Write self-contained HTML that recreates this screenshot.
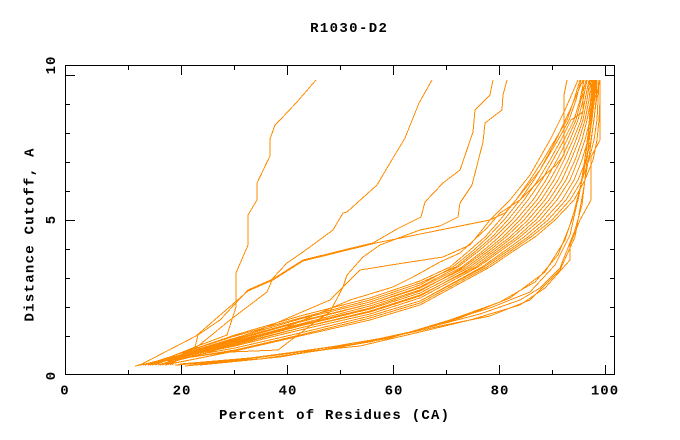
<!DOCTYPE html>
<html><head><meta charset="utf-8"><style>
html,body{margin:0;padding:0;background:#fff;}
svg{display:block;}
text{font-family:"Liberation Mono","DejaVu Sans Mono",monospace;font-weight:bold;font-size:14px;fill:#000;}
</style></head><body>
<svg width="680" height="440" viewBox="0 0 680 440" xmlns="http://www.w3.org/2000/svg">
<rect x="0" y="0" width="680" height="440" fill="#fff"/>
<text x="348.5" y="32" text-anchor="middle" textLength="76.8" lengthAdjust="spacing">R1030-D2</text>
<text x="334" y="419" text-anchor="middle" textLength="230" lengthAdjust="spacing">Percent of Residues (CA)</text>
<text transform="translate(33.5,235) rotate(-90)" text-anchor="middle" textLength="173" lengthAdjust="spacing">Distance Cutoff, A</text>
<g text-anchor="middle" style="letter-spacing:1px">
<text x="65" y="394.5">0</text>
<text x="182" y="394.5">20</text>
<text x="288" y="394.5">40</text>
<text x="394" y="394.5">60</text>
<text x="500" y="394.5">80</text>
<text x="605" y="394.5">100</text>
<text transform="translate(55,375.5) rotate(-90)">0</text>
<text transform="translate(55,219.5) rotate(-90)">5</text>
<text transform="translate(55,65) rotate(-90)">10</text>
</g>
<g fill="none" stroke="#ff8c00" stroke-width="1" shape-rendering="crispEdges">
<!-- main bundle -->
<polyline points="172,365 185,352 235,335 300,316 370,298 420,281 450,267 470,250 485,237 500,220 516,200 530,180 543,160 555,140 567,120 574,100 580,80"/>
<polyline points="155,365 185,353 235,338 300,319 370,302 420,285 453,267 474,250 488,237 504,220 520,200 534,180 546,160 558,140 569,120 576,100 581,80"/>
<polyline points="145,365 185,352 235,336 300,318 370,300 420,283 456,267 477,250 492,237 508,220 524,200 538,180 550,160 561,140 571,120 583,112 583,80"/>
<polyline points="170,365 185,354 235,339 300,321 370,304 420,287 458,267 480,250 495,237 512,220 528,200 542,180 553,160 564,140 574,120 580,100 584,80"/>
<polyline points="148,365 185,354 235,340 300,322 370,304 420,288 462,267 484,250 499,237 516,220 533,200 546,180 557,160 567,140 576,120 581,100 586,80"/>
<polyline points="162,365 185,355 235,342 300,325 370,308 420,291 464,267 487,250 503,237 520,220 537,200 550,180 561,160 570,140 578,120 583,100 587,80"/>
<polyline points="141,365 185,354 235,341 300,324 370,306 420,290 467,267 490,250 506,237 524,220 541,200 554,180 564,160 573,140 581,120 585,100 589,80"/>
<polyline points="160,365 185,355 235,343 300,326 370,309 420,293 470,267 493,250 510,237 528,220 545,200 558,180 568,160 576,140 583,120 587,100 590,80"/>
<polyline points="143,365 185,356 235,345 300,328 370,312 420,296 473,267 496,250 513,237 532,220 549,200 562,180 571,160 579,140 585,120 589,100 591,80"/>
<polyline points="152,365 185,355 235,344 300,328 370,311 420,295 476,267 499,250 517,237 536,220 553,200 566,180 575,160 582,140 587,120 591,100 593,80"/>
<polyline points="150,365 185,356 235,346 300,330 370,314 420,298 478,267 502,250 520,237 540,220 557,200 570,180 578,160 585,140 590,120 592,100 594,80"/>
<polyline points="158,365 185,357 235,348 300,333 370,316 420,301 482,267 506,250 524,237 544,220 562,200 574,180 582,160 588,140 592,120 594,100 596,80"/>
<polyline points="135,366 185,357 235,348 300,333 370,316 420,301 484,267 509,250 528,237 548,220 566,200 578,180 586,160 591,140 594,120 596,100 597,80"/>
<polyline points="165,365 185,358 235,350 300,335 370,318 420,303 487,267 512,250 531,237 552,220 570,200 582,180 589,160 594,140 597,120 598,100 599,80"/>
<polyline points="138,365 185,358 235,351 300,336 370,320 420,305 490,267 515,250 535,237 555,220 574,200 585,180 593,160 597,140 599,120 600,100 600,80"/>
<!-- lower bundle -->
<polyline points="175,365 240,360 300,352 360,346 420,332 470,320 520,305 545,288 570,260 570,245 580,220 591,200 591,157 600,140 600,80"/>
<polyline points="180,364 250,358 310,350 370,342 430,327 480,314 520,300 540,288 560,268 575,230 582,205 586,170 590,130 595,80"/>
<polyline points="185,366 260,359 330,349 390,338 440,323 490,308 530,292 555,265 570,235 580,190 588,140 592,80"/>
<polyline points="190,365 270,358 340,347 400,335 450,320 500,302 535,282 558,255 572,220 582,180 590,120 596,80"/>
<polyline points="200,365 280,357 350,345 410,332 460,318 510,298 545,272 565,240 578,200 588,150 597,80"/>
<polyline points="178,365 260,357 330,347 395,336 445,325 490,316 530,300 560,270 575,237 583,192 590,150 599,80"/>
<!-- upper fan -->
<polyline points="150,365 200,350 260,330 330,300 360,270 410,262 443,257 470,245 490,220 510,200 530,175 550,140 565,110 578,80"/>
<polyline points="160,365 210,352 280,330 350,300 393,287 413,277 440,262 460,253 487,228 500,213 520,200 545,175 556,165 564,155 564,95 567,80"/>
<!-- tall curves -->
<polyline points="180,358 195,347 227,335 236,307 236,273 248,245 248,215 257,200 257,183 270,156 270,139 275,125 280,120 297,102 316,80"/>
<polyline points="150,365 197,347 230,320 267,292 273,278 287,263 303,252 333,230 343,213 347,212 377,185 393,158 405,138 419,103 432,80"/>
<polyline points="150,365 195,347 198,335 220,320 248,290 273,279 303,260 360,246 373,243 397,229 421,217 425,202 443,183 460,170 473,132 475,110 490,95 493,80"/>
<polyline points="140,365 196,336 248,291 273,280 303,261 376,243 440,230 490,220 505,213 520,195 540,170 556,140 570,110 583,80"/>
<polyline points="165,365 230,352 278,350 315,322 330,312 343,287 347,275 363,257 380,245 420,230 440,226 458,217 460,203 472,185 483,142 485,123 502,110 503,95 507,80"/>
</g>
<g fill="none" stroke="#000" stroke-width="1" shape-rendering="crispEdges">
<rect x="65.5" y="65.5" width="549" height="309"/>
<path d="M181.5 375v-10M287.5 375v-10M393.5 375v-10M499.5 375v-10M605.5 375v-10
M128.5 375v-5M234.5 375v-5M340.5 375v-5M446.5 375v-5M552.5 375v-5
M181.5 65v10M287.5 65v10M393.5 65v10M499.5 65v10M605.5 65v10
M128.5 65v5M234.5 65v5M340.5 65v5M446.5 65v5M552.5 65v5
M65 75.5h10M65 220.5h10M615 75.5h-10M615 220.5h-10
M65 104.5h5M65 133.5h5M65 162.5h5M65 191.5h5M65 249.5h5M65 278.5h5M65 307.5h5M65 336.5h5
M615 104.5h-5M615 133.5h-5M615 162.5h-5M615 191.5h-5M615 249.5h-5M615 278.5h-5M615 307.5h-5M615 336.5h-5"/>
</g>
</svg>
</body></html>
